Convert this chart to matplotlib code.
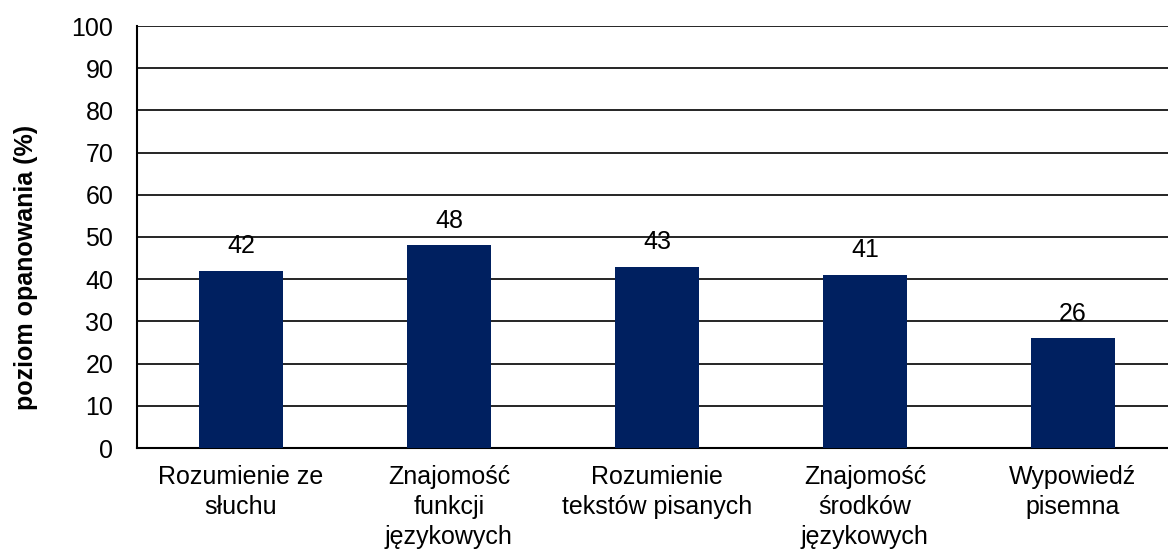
import matplotlib
matplotlib.use("Agg")
import matplotlib.pyplot as plt

categories = ["Rozumienie ze\nsłuchu", "Znajomość\nfunkcji\njęzykowych",
              "Rozumienie\ntekstów pisanych", "Znajomość\nśrodków\njęzykowych",
              "Wypowiedź\npisemna"]
values = [42, 48, 43, 41, 26]
yticks = [0, 10, 20, 30, 40, 50, 60, 70, 80, 90, 100]

plt.rcParams['font.family'] = ['Liberation Sans', 'DejaVu Sans']

fig = plt.figure(figsize=(11.68, 5.56), dpi=100)
# plot area runs slightly past the right edge of the figure, as in the original
ax = fig.add_axes([137 / 1168, 1 - 448 / 556, 1040 / 1168, 422 / 556])

x = range(len(categories))
ax.bar(x, values, width=0.4, color="#002060", zorder=3)

for xi, v in zip(x, values):
    ax.annotate(str(v), (xi, v), xytext=(0, 9), textcoords="offset points",
                ha="center", va="bottom", fontsize=18)

ax.set_xlim(-0.5, len(categories) - 0.5)
ax.set_ylim(0, 100)
ax.set_yticks(yticks)
ax.yaxis.grid(True, color="black", linewidth=1.2, zorder=0)
ax.set_xticks(list(x))
ax.set_xticklabels(categories, fontsize=18, linespacing=1.33)
ax.tick_params(axis="both", length=0, labelsize=18)
ax.tick_params(axis="x", pad=12)
ax.tick_params(axis="y", pad=17)

for s in ["top", "right"]:
    ax.spines[s].set_visible(False)
for s in ["left", "bottom"]:
    ax.spines[s].set_linewidth(1.5)

ax.set_ylabel("poziom opanowania (%)", fontsize=18, fontweight="bold")
ax.yaxis.set_label_coords(-0.095, 0.427)

fig.savefig("out.png", dpi=100)
